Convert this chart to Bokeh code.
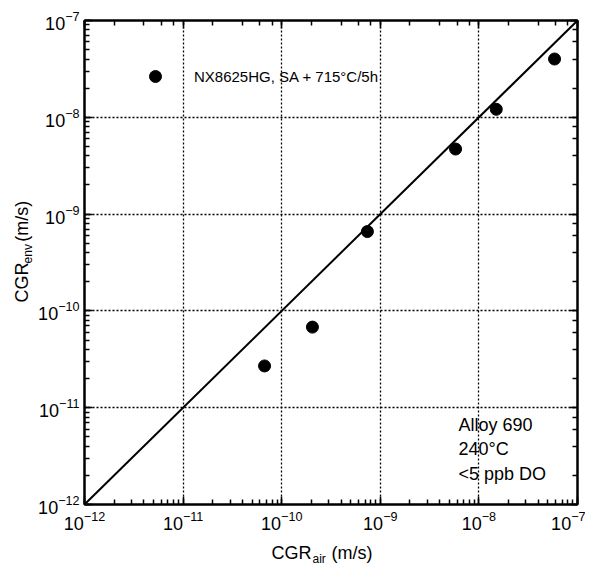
import math
from bokeh.plotting import figure
from bokeh.models import LogAxis, Label, Legend, LegendItem, Range1d
from bokeh.layouts import row, column
from bokeh.core.properties import value
from bokeh.embed import file_html
from bokeh.resources import INLINE

# ---- data ----
cgr_air = [6.7e-11, 2.05e-10, 7.4e-10, 5.8e-9, 1.5e-8, 5.85e-8]
cgr_env = [2.7e-11, 6.8e-11, 6.6e-10, 4.7e-9, 1.21e-8, 4.0e-8]
line_x = [1e-12, 1e-7]
line_y = [1e-12, 1e-7]
axis_min, axis_max = 1e-12, 1e-7
series_label = "NX8625HG, SA + 715°C/5h"
notes = ["Alloy 690", "240°C", "<5 ppb DO"]
xlabel_parts = ["CGR", "air", "(m/s)"]
ylabel_parts = ["CGR", "env", "(m/s)"]

FONT = "Liberation Sans"
P_HEIGHT = 534

p = figure(output_backend="svg", toolbar_location=None,
           x_axis_type="log", y_axis_type="log",
           x_range=Range1d(axis_min, axis_max), y_range=Range1d(axis_min, axis_max),
           frame_width=493, frame_height=484,
           min_border_left=50, min_border_right=8, min_border_top=20, min_border_bottom=30)
p.background_fill_color = "white"
p.border_fill_color = "white"
p.outline_line_color = "black"
p.outline_line_width = 2

# diagonal line
p.line(line_x, line_y, line_color="black", line_width=2)
# data points
pts = p.scatter(cgr_air, cgr_env, size=12, marker="circle", fill_color="black", line_color="black")

# axes styling
for ax in [p.xaxis[0], p.yaxis[0]]:
    ax.axis_line_width = 2
    ax.major_tick_in = 8
    ax.major_tick_out = 0
    ax.minor_tick_in = 5
    ax.minor_tick_out = 0
    ax.major_tick_line_width = 1.5
    ax.minor_tick_line_width = 1.5
    ax.major_label_text_font = FONT
    ax.major_label_text_font_size = "18px"
    ax.major_label_text_color = "black"
p.xaxis[0].major_label_standoff = 6
p.yaxis[0].major_label_standoff = 5

# mirror axes on top and right (ticks only)
for side in ["above", "right"]:
    ax = LogAxis(axis_line_width=2, major_tick_in=8, major_tick_out=0, minor_tick_in=5, minor_tick_out=0,
                 major_tick_line_width=1.5, minor_tick_line_width=1.5,
                 major_label_text_font_size="2px", major_label_text_alpha=0, major_label_standoff=0)
    p.add_layout(ax, side)

for g in [p.xgrid[0], p.ygrid[0]]:
    g.grid_line_color = "black"
    g.grid_line_dash = "2 2"
    g.grid_line_width = 1.3

# legend
leg = Legend(items=[LegendItem(label=series_label, renderers=[pts])],
             location=(56, 413), padding=0, margin=0, spacing=0,
             glyph_width=30, glyph_height=30, label_standoff=24,
             label_text_font=FONT, label_text_font_size="15px", label_text_color="black",
             border_line_color=None, background_fill_alpha=0)
p.add_layout(leg)

# notes
note_y = [80, 56, 31]
for t, yy in zip(notes, note_y):
    p.add_layout(Label(x=374, y=yy, x_units="screen", y_units="screen", text=t,
                       text_font=FONT, text_font_size="18px", text_color="black",
                       text_baseline="alphabetic"))

# ---- y axis label panel ----
ylab = figure(output_backend="svg", toolbar_location=None, width=34, height=P_HEIGHT,
              x_range=Range1d(0, 34), y_range=Range1d(0, P_HEIGHT),
              x_axis_location=None, y_axis_location=None, min_border=0,
              outline_line_color=None)
ylab.grid.visible = False
ylab.text(x=[21, 21], y=[223, 290], text=[ylabel_parts[0], ylabel_parts[2]], angle=math.pi / 2,
          text_font=value(FONT), text_font_size="18px", text_color="black",
          text_align="left", text_baseline="alphabetic")
ylab.text(x=[27], y=[266], text=[ylabel_parts[1]], angle=math.pi / 2,
          text_font=value(FONT), text_font_size="12px", text_color="black",
          text_align="left", text_baseline="alphabetic")

# ---- x axis label panel ----
xlab = figure(output_backend="svg", toolbar_location=None, width=585, height=30,
              x_range=Range1d(0, 585), y_range=Range1d(0, 30),
              x_axis_location=None, y_axis_location=None, min_border=0,
              outline_line_color=None)
xlab.grid.visible = False
xlab.text(x=[271, 331], y=[12, 12], text=[xlabel_parts[0], xlabel_parts[2]],
          text_font=value(FONT), text_font_size="18px", text_color="black",
          text_align="left", text_baseline="alphabetic")
xlab.text(x=[312], y=[6], text=[xlabel_parts[1]],
          text_font=value(FONT), text_font_size="12px", text_color="black",
          text_align="left", text_baseline="alphabetic")

layout = column(row(ylab, p, spacing=0), xlab, spacing=0)

open("out.html", "w").write(file_html(layout, INLINE))
